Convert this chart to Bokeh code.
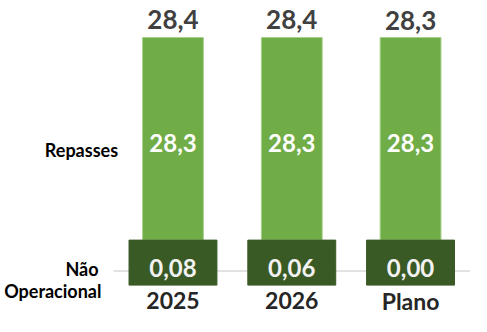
from bokeh.plotting import figure
from bokeh.models import ColumnDataSource, Range1d
from bokeh.core.properties import value
from bokeh.embed import file_html
from bokeh.resources import INLINE

# ---- data ----
categories = ["2025", "2026", "Plano"]
repasses = [28.3, 28.3, 28.3]
nao_operacional = [0.08, 0.06, 0.00]
totais = [28.4, 28.4, 28.3]
repasses_labels = ["28,3", "28,3", "28,3"]
nao_op_labels = ["0,08", "0,06", "0,00"]
total_labels = ["28,4", "28,4", "28,3"]
series_names = ["Repasses", "Não Operacional"]

# ---- styles ----
GREEN = "#70AD47"
GREEN_EDGE = "#A9D18E"
DARK = "#3A5A25"
FONT = value("Lato")
PX_PER_UNIT = 7.159            # vertical scale (px per data unit)
BAND_DEPTH = 45 / PX_PER_UNIT  # depth of the "Não Operacional" band

xs = list(range(len(categories)))
src = ColumnDataSource(dict(
    x=xs, cat=categories, rep=repasses, nao=nao_operacional, tot=totais,
    rep_lbl=repasses_labels, nao_lbl=nao_op_labels, tot_lbl=total_labels,
    rep_mid=[r * 0.477 for r in repasses],
    tot_y=[t + 17 / PX_PER_UNIT for t in totais],
    zero=[0] * len(xs),
    band_bot=[-BAND_DEPTH] * len(xs),
    band_mid=[-BAND_DEPTH * 0.63] * len(xs),
    cat_y=[-8.5] * len(xs),
))

W, H = 471, 316
p = figure(width=W, height=H, output_backend="svg", toolbar_location=None,
           x_range=Range1d(-1.452, 2.513), y_range=Range1d(-10.67, 33.47),
           min_border=0, outline_line_color=None)
p.axis.visible = False
p.grid.visible = False
p.background_fill_color = "white"
p.border_fill_color = "white"

# baseline
p.segment(x0=[-0.5], y0=[-4.3], x1=[len(xs) - 1 + 0.5], y1=[-4.3],
          line_color="#D9D9D9", line_width=1.5)

# Repasses bars
p.vbar(x="x", top="rep", bottom="zero", width=0.512, source=src,
       fill_color=GREEN, line_color=GREEN_EDGE, line_width=1)
# Não Operacional band
p.vbar(x="x", top="zero", bottom="band_bot", width=0.74, source=src,
       fill_color=DARK, line_color=DARK, line_width=1)

# labels
p.text(x="x", y="tot_y", text="tot_lbl", source=src, text_align="center",
       text_baseline="middle", text_font=FONT, text_font_style="bold",
       text_font_size="26px", text_color="#404040")
p.text(x="x", y="rep_mid", text="rep_lbl", source=src, text_align="center",
       text_baseline="middle", text_font=FONT, text_font_style="bold",
       text_font_size="24px", text_color="white")
p.text(x="x", y="band_mid", text="nao_lbl", source=src, text_align="center",
       text_baseline="middle", text_font=FONT, text_font_style="bold",
       text_font_size="24px", text_color="#F2F2F2")
p.text(x="x", y="cat_y", text="cat", source=src, text_align="center",
       text_baseline="middle", text_font=FONT, text_font_style="bold",
       text_font_size="23px", text_color="#262626")

# series names at left
p.text(x=[-0.462], y=[12.52], text=[series_names[0]], text_align="right",
       text_baseline="middle", text_font=FONT, text_font_style="bold",
       text_font_size="18px", text_color="black")
nao_words = series_names[1].split(" ")
p.text(x=[-0.627, -0.602], y=[-4.05, -7.1], text=nao_words, text_align="right",
       text_baseline="middle", text_font=FONT, text_font_style="bold",
       text_font_size="18px", text_color="black")

open("out.html", "w").write(file_html(p, INLINE))
